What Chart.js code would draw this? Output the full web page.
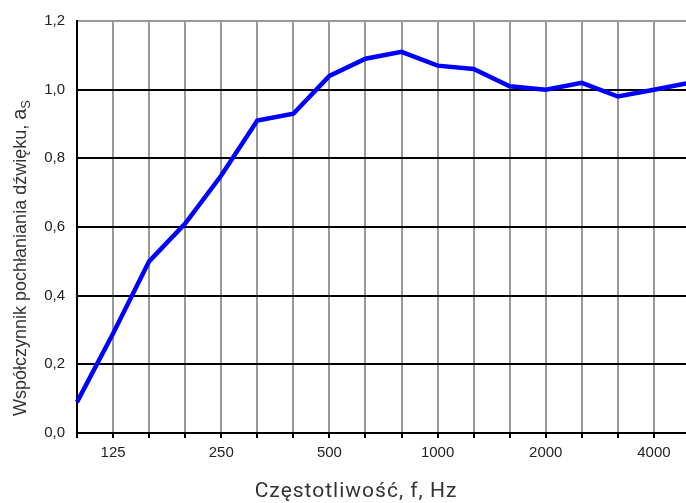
<!DOCTYPE html>
<html>
<head>
<meta charset="utf-8">
<script src="https://cdn.jsdelivr.net/npm/chart.js@4"></script>
<style>
    html, body { margin: 0; padding: 0; background: #fff; overflow: hidden; }
    #wrap { width: 690px; height: 503px; }
</style>
</head>
<body>
<div id="wrap"><canvas id="chart" width="690" height="503"></canvas></div>
<script>
// --- Data ---
const FREQUENCIES = ['100', '125', '160', '200', '250', '315', '400', '500', '630',
    '800', '1000', '1250', '1600', '2000', '2500', '3150', '4000', '5000'];
const ABSORPTION = [0.09, 0.29, 0.50, 0.61, 0.75, 0.91, 0.93, 1.04, 1.09,
    1.11, 1.07, 1.06, 1.01, 1.00, 1.02, 0.98, 1.00, 1.02];
const SHOWN_LABELS = ['125', '250', '500', '1000', '2000', '4000'];
const Y_TICKS = [0, 0.2, 0.4, 0.6, 0.8, 1.0, 1.2];

const X_TITLE = 'Częstotliwość, f, Hz';
const Y_TITLE = 'Współczynnik pochłaniania dźwięku, ';

// --- Axis titles drawn by hand (subscript on a_S) ---
const titlesPlugin = {
    id: 'titles',
    afterDraw(chart) {
        const ctx = chart.ctx;
        ctx.save();
        ctx.fillStyle = '#333';
        ctx.textBaseline = 'alphabetic';

        // x title
        ctx.font = '21px Roboto';
        ctx.letterSpacing = '1px';
        ctx.textAlign = 'center';
        ctx.fillText(X_TITLE, 356, 497);
        ctx.letterSpacing = '0px';

        // y title, rotated
        ctx.translate(26, 258);
        ctx.rotate(-Math.PI / 2);
        ctx.textAlign = 'left';
        ctx.font = '18px "Liberation Sans"';
        const w1 = ctx.measureText(Y_TITLE).width;
        ctx.font = '20px "Liberation Sans"';
        const w2 = ctx.measureText('a').width;
        ctx.font = '13px "Liberation Sans"';
        const w3 = ctx.measureText('S').width;
        let x = -(w1 + w2 + w3) / 2;
        ctx.font = '18px "Liberation Sans"';
        ctx.fillText(Y_TITLE, x, 0);
        x += w1;
        ctx.font = '20px "Liberation Sans"';
        ctx.fillText('a', x, 0);
        x += w2;
        ctx.font = '13px "Liberation Sans"';
        ctx.fillText('S', x, 4);
        ctx.restore();
    }
};

new Chart(document.getElementById('chart'), {
    type: 'line',
    data: {
        labels: FREQUENCIES,
        datasets: [{
            data: ABSORPTION,
            borderColor: '#0000ff',
            borderWidth: 4.5,
            pointRadius: 0,
            tension: 0,
            clip: false,
        }]
    },
    options: {
        responsive: false,
        animation: false,
        layout: { padding: { top: 20, right: 0, left: 0, bottom: 0 } },
        plugins: { legend: { display: false }, tooltip: { enabled: false } },
        scales: {
            x: {
                type: 'category',
                offset: false,
                z: -1,
                afterFit: s => { s.height = 70; s.paddingLeft = 0; s.paddingRight = 0; },
                grid: { color: '#999', lineWidth: 2, tickColor: '#000', tickLength: 5, drawTicks: true },
                border: { color: '#000', width: 2 },
                ticks: {
                    autoSkip: false,
                    maxRotation: 0,
                    padding: 6,
                    color: '#222',
                    font: { family: 'Liberation Sans', size: 15 },
                    callback: (v, i) => SHOWN_LABELS.includes(FREQUENCIES[i]) ? FREQUENCIES[i] : ''
                }
            },
            y: {
                min: 0,
                max: 1.2,
                afterFit: s => { s.width = 77; },
                afterBuildTicks: s => { s.ticks = Y_TICKS.map(v => ({ value: v })); },
                grid: {
                    color: c => c.tick && c.tick.value === 1.2 ? '#999' : '#000',
                    lineWidth: 2,
                    drawTicks: false
                },
                border: { color: '#000', width: 2 },
                ticks: {
                    padding: 12,
                    color: '#222',
                    font: { family: 'Liberation Sans', size: 15 },
                    callback: v => v.toFixed(1).replace('.', ',')
                }
            }
        }
    },
    plugins: [titlesPlugin]
});
</script>
</body>
</html>
